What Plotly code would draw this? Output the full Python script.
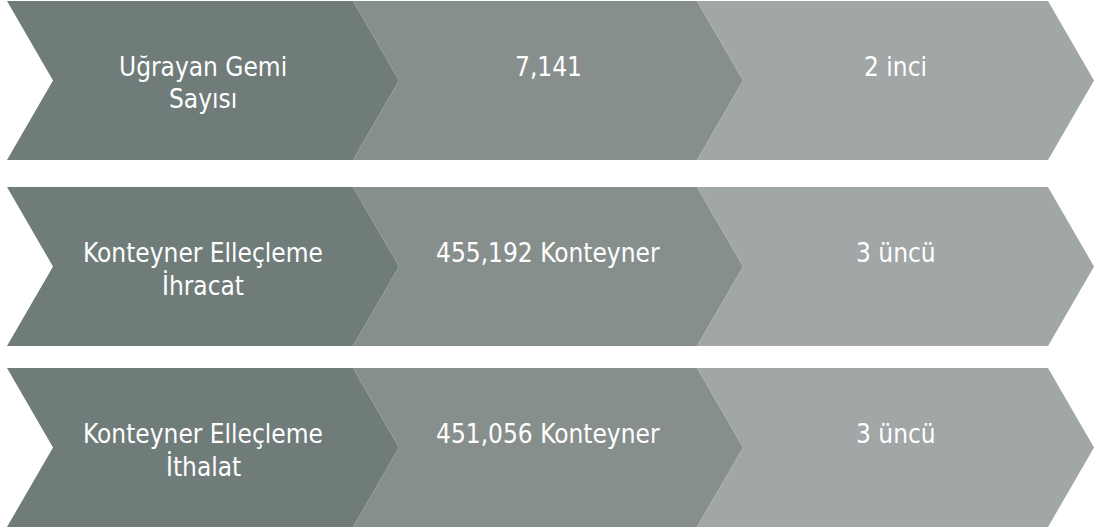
import plotly.graph_objects as go

# ---- data ----
labels = ["Uğrayan Gemi\nSayısı", "Konteyner Elleçleme\nİhracat", "Konteyner Elleçleme\nİthalat"]
values = ["7,141", "455,192 Konteyner", "451,056 Konteyner"]
ranks = ["2 inci", "3 üncü", "3 üncü"]

# ---- layout / style ----
W, H = 1096, 529
col_left = [7, 353, 697]
col_right = [353, 697, 1048]
tip = 46
row_top = [1, 187, 368]
row_h = 159
colors = ["#6F7C7A", "#878F8D", "#A1A6A6"]
text_offset = 66
line_gap = 32
font = dict(family="DejaVu Sans Condensed, sans-serif", size=26, color="white")

fig = go.Figure()
annotations = []
for r in range(3):
    T = row_top[r]
    B = T + row_h
    M = (T + B) / 2
    texts = [labels[r], values[r], ranks[r]]
    for c in range(3):
        L, R = col_left[c], col_right[c]
        xs = [L, R, R + tip, R, L, L + tip, L]
        ys = [T, T, M, B, B, M, T]
        fig.add_trace(go.Scatter(x=xs, y=ys, mode="lines", fill="toself",
                                 fillcolor=colors[c], line=dict(width=0, color=colors[c]),
                                 hoverinfo="skip", showlegend=False))
        cx = (L + R + tip) / 2
        for i, line in enumerate(texts[c].split("\n")):
            annotations.append(dict(x=cx, y=T + text_offset + i * line_gap, text=line,
                                    showarrow=False, xanchor="center", yanchor="middle",
                                    font=font, xref="x", yref="y"))

fig.update_layout(
    width=W, height=H,
    margin=dict(l=0, r=0, t=0, b=0),
    paper_bgcolor="white", plot_bgcolor="white",
    xaxis=dict(range=[0, W], visible=False, fixedrange=True),
    yaxis=dict(range=[H, 0], visible=False, fixedrange=True),
    annotations=annotations,
)
fig.write_html("out.html", config={"displayModeBar": False},
               post_script="document.body.style.margin='0';document.body.style.overflow='hidden';")
